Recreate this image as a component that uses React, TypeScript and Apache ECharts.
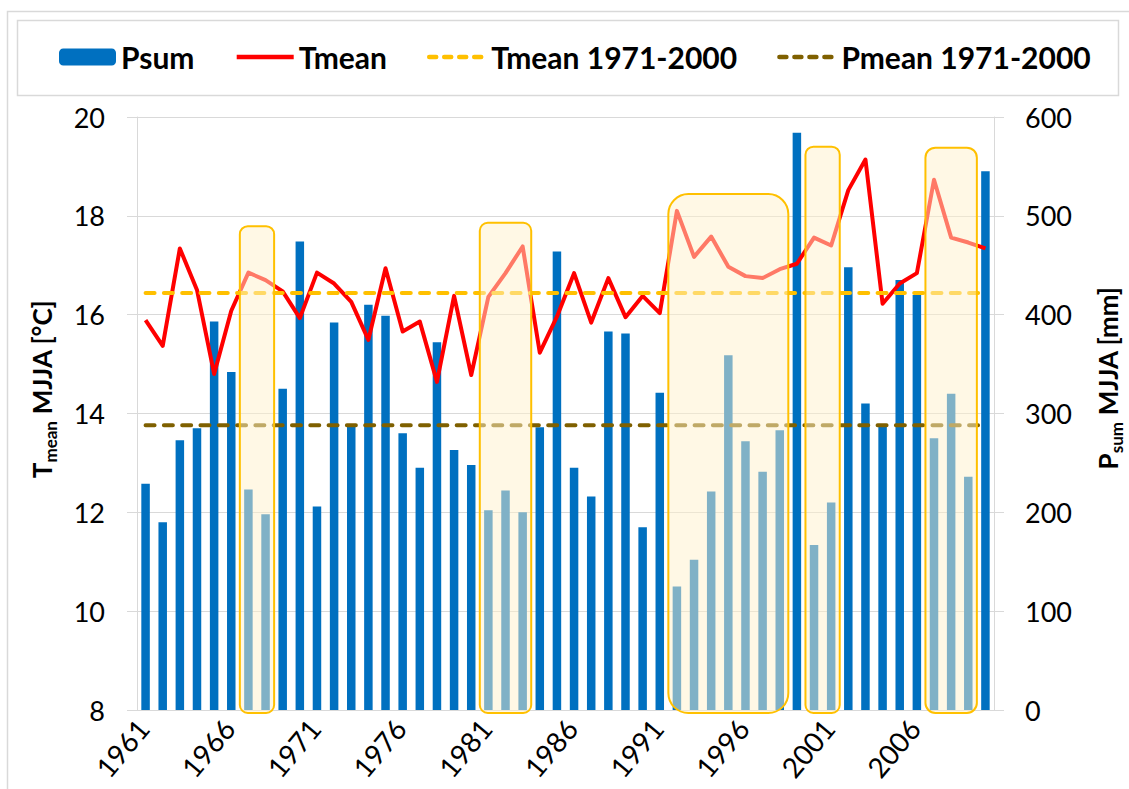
import React, { useEffect, useRef } from "react";
import * as echarts from "echarts";

const years = [
  "1961", "1962", "1963", "1964", "1965", "1966", "1967", "1968", "1969", "1970",
  "1971", "1972", "1973", "1974", "1975", "1976", "1977", "1978", "1979", "1980",
  "1981", "1982", "1983", "1984", "1985", "1986", "1987", "1988", "1989", "1990",
  "1991", "1992", "1993", "1994", "1995", "1996", "1997", "1998", "1999", "2000",
  "2001", "2002", "2003", "2004", "2005", "2006", "2007", "2008", "2009", "2010",
];

// precipitation sum MJJA [mm]
const psum = [
  229, 190, 273, 285, 393, 342, 223, 198, 325, 474,
  206, 392, 289, 410, 399, 280, 245, 372, 263, 248,
  202, 222, 200, 286, 464, 245, 216, 383, 381, 185,
  321, 125, 152, 221, 359, 272, 241, 283, 584, 167,
  210, 448, 310, 287, 435, 420, 275, 320, 236, 545,
];

// mean temperature MJJA [°C]
const tmean = [
  15.89, 15.37, 17.34, 16.5, 14.8, 16.08, 16.85, 16.7, 16.47, 15.93,
  16.85, 16.63, 16.26, 15.49, 16.94, 15.66, 15.86, 14.64, 16.38, 14.78,
  16.36, 16.84, 17.38, 15.23, 15.96, 16.84, 15.84, 16.74, 15.95, 16.38,
  16.03, 18.1, 17.17, 17.58, 16.97, 16.78, 16.74, 16.92, 17.03, 17.56,
  17.4, 18.52, 19.14, 16.22, 16.63, 16.84, 18.73, 17.56, 17.46, 17.34,
];

const tmeanRef = 16.44; // Tmean 1971-2000
const pmeanRef = 288; // Pmean 1971-2000

const tempTicks = { min: 8, max: 20, interval: 2 };
const precTicks = { min: 0, max: 600, interval: 100 };

// highlighted periods (start year, end year, top of box in °C)
const hlStart = ["1967", "1981", "1992", "2000", "2007"];
const hlEnd = ["1968", "1983", "1998", "2001", "2009"];
const hlTop = [17.79, 17.86, 18.44, 19.4, 19.38];
const hlRadius = [8, 8, 20, 8, 10];

const FONT = "Lato";
const GRID = "#D9D9D9";

export default function App() {
  const ref = useRef<HTMLDivElement>(null);

  useEffect(() => {
    const chart = echarts.init(ref.current!, null, { renderer: "svg" });
    const hideSym = { opacity: 0 };
    chart.setOption({
      animation: false,
      textStyle: { fontFamily: FONT },
      grid: { left: 137, right: 135, top: 117, bottom: 79 },
      legend: {
        top: 37,
        left: 54,
        itemWidth: 57,
        itemHeight: 17,
        itemGap: 40,
        textStyle: { fontSize: 30, fontWeight: "bold", color: "#000", fontFamily: FONT },
        data: [
          { name: "Psum" },
          { name: "Tmean", itemStyle: hideSym, lineStyle: { width: 4.5, color: "#FF0000" } },
          {
            name: "Tmean 1971-2000",
            itemStyle: hideSym,
            lineStyle: { width: 4.5, color: "#FFC000", type: [7, 8], cap: "round" },
          },
          {
            name: "Pmean 1971-2000",
            itemStyle: hideSym,
            lineStyle: { width: 4.5, color: "#7F6000", type: [7, 8], cap: "round" },
          },
        ],
      },
      xAxis: {
        type: "category",
        data: years,
        boundaryGap: true,
        axisLine: { lineStyle: { color: GRID, width: 1 } },
        axisTick: { interval: 4, length: 8, lineStyle: { color: GRID } },
        axisLabel: {
          interval: 4,
          rotate: 50,
          fontSize: 28,
          color: "#000",
          margin: 10,
          padding: [0, 4, 0, 0],
          fontFamily: FONT,
        },
      },
      yAxis: [
        {
          type: "value",
          position: "left",
          ...tempTicks,
          axisLine: { show: true, lineStyle: { color: GRID } },
          axisTick: { show: true, length: 10, lineStyle: { color: GRID } },
          axisLabel: { fontSize: 27, color: "#000", margin: 32, fontFamily: FONT },
          splitLine: { show: true, lineStyle: { color: GRID, width: 1 } },
        },
        {
          type: "value",
          position: "right",
          ...precTicks,
          axisLine: { show: true, lineStyle: { color: GRID } },
          axisTick: { show: true, length: 10, lineStyle: { color: GRID } },
          axisLabel: { fontSize: 27, color: "#000", margin: 31, fontFamily: FONT },
          splitLine: { show: false },
        },
      ],
      series: [
        {
          name: "Psum",
          type: "bar",
          yAxisIndex: 1,
          data: psum,
          barWidth: 8.5,
          itemStyle: { color: "#0070C0" },
          z: 2,
        },
        {
          name: "Tmean",
          type: "line",
          yAxisIndex: 0,
          data: tmean,
          symbol: "none",
          lineStyle: { color: "#FF0000", width: 4, join: "round" },
          itemStyle: { color: "#FF0000" },
          z: 3,
        },
        {
          name: "Tmean 1971-2000",
          type: "line",
          yAxisIndex: 0,
          data: years.map(() => tmeanRef),
          symbol: "none",
          lineStyle: { color: "#FFC000", width: 4, type: [9, 9.3], cap: "round" },
          itemStyle: { color: "#FFC000" },
          z: 4,
        },
        {
          name: "Pmean 1971-2000",
          type: "line",
          yAxisIndex: 1,
          data: years.map(() => pmeanRef),
          symbol: "none",
          lineStyle: { color: "#7F6000", width: 4, type: [9, 9.3], cap: "round" },
          itemStyle: { color: "#7F6000" },
          z: 4,
        },
      ],
    });

    const px = (cat: string) => chart.convertToPixel({ xAxisIndex: 0 }, cat) as number;
    const py = (t: number) => chart.convertToPixel({ yAxisIndex: 0 }, t) as number;
    const catW = px(years[1]) - px(years[0]);
    const yBottom = py(tempTicks.min) + 3;

    const boxes = hlStart.map((s, i) => {
      const x0 = px(s) - catW / 2;
      const x1 = px(hlEnd[i]) + catW / 2;
      const y0 = py(hlTop[i]);
      return {
        type: "rect",
        z: 100,
        shape: { x: x0, y: y0, width: x1 - x0, height: yBottom - y0, r: hlRadius[i] },
        style: { fill: "rgba(255,242,204,0.5)", stroke: "#FFC000", lineWidth: 2 },
      };
    });

    const nameRich = {
      b: { fontSize: 26, fontWeight: "bold", fontFamily: FONT, fill: "#000", lineHeight: 30 },
      s: { fontSize: 17, fontWeight: "bold", fontFamily: FONT, fill: "#000", verticalAlign: "bottom", lineHeight: 33 },
    };

    chart.setOption({
      graphic: [
        {
          type: "rect",
          z: 0,
          shape: { x: 7.5, y: 11.5, width: 1200, height: 1000 },
          style: { fill: "none", stroke: GRID, lineWidth: 1.5 },
        },
        {
          type: "rect",
          z: 0,
          shape: { x: 17.5, y: 20.5, width: 1101, height: 75 },
          style: { fill: "none", stroke: GRID, lineWidth: 1.5 },
        },
        ...boxes,
        {
          type: "text",
          z: 10,
          x: 42,
          y: 389,
          rotation: Math.PI / 2,
          style: {
            text: "{b|T}{s|mean}{b| MJJA [°C]}",
            align: "center",
            verticalAlign: "middle",
            rich: nameRich,
          },
        },
        {
          type: "text",
          z: 10,
          x: 1108,
          y: 378,
          rotation: Math.PI / 2,
          style: {
            text: "{b|P}{s|sum}{b| MJJA [mm]}",
            align: "center",
            verticalAlign: "middle",
            rich: nameRich,
          },
        },
      ],
    });

    return () => chart.dispose();
  }, []);

  return (
    <div
      ref={ref}
      style={{ position: "fixed", left: 0, top: 0, width: 1129, height: 789, background: "#fff" }}
    />
  );
}
